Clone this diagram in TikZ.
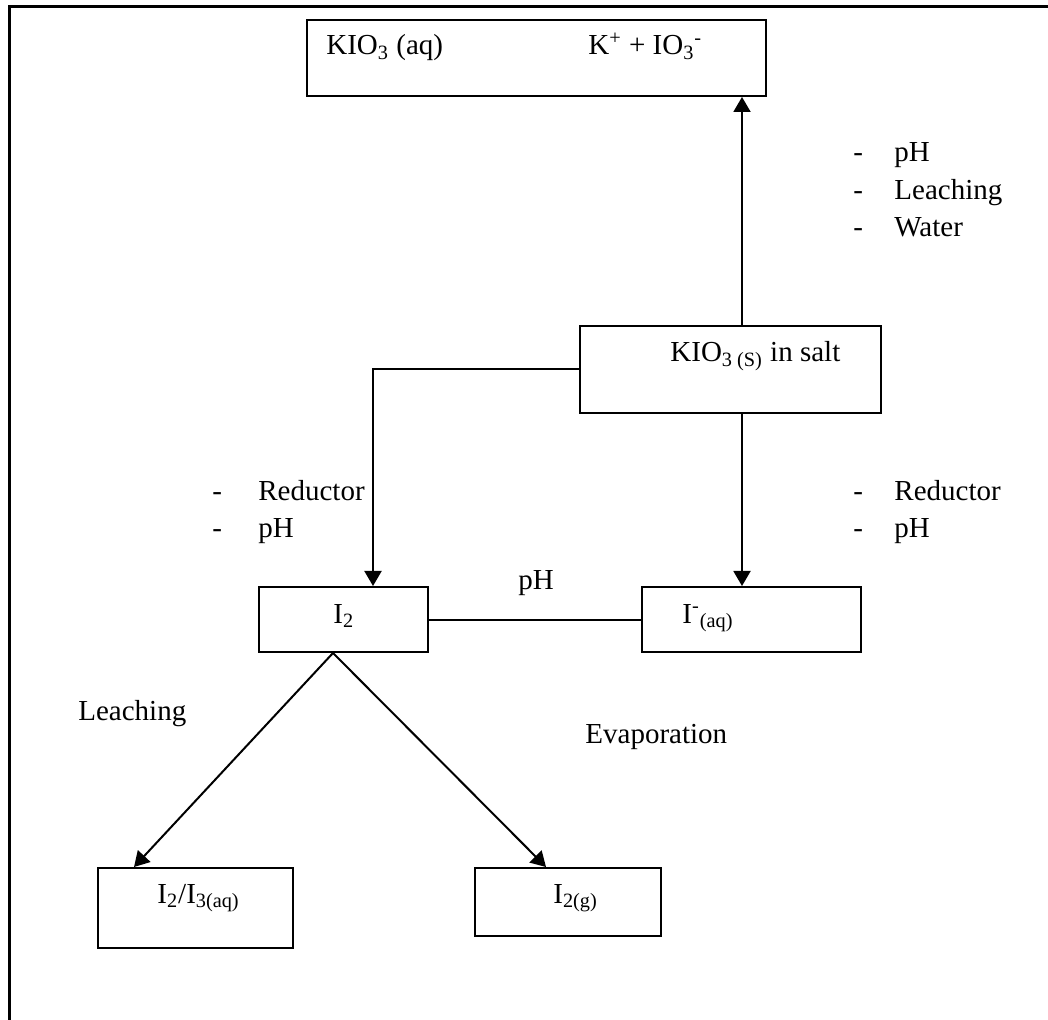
\documentclass[tikz,border=0pt]{standalone}
\usepackage{fontspec}
\setmainfont{Liberation Serif}
\usepackage{tikz}
\usetikzlibrary{arrows, arrows.meta}

\tikzset{
  box/.style={draw, line width=1pt, inner sep=0pt, anchor=north west},
  txt/.style={anchor=base west, inner sep=0pt, font=\fontsize{14.5}{17}\selectfont},
}

\begin{document}
\begin{tikzpicture}[x=0.5pt, y=-0.5pt, >={Triangle[length=7.5pt, width=8.5pt]}]
  \useasboundingbox (0,0) rectangle (1048,1020);
  \clip (0,0) rectangle (1048,1020);

  % frame
  \draw[line width=1.3pt] (9.5,1060) |- (1080,6.5);

  % boxes
  \node (aq) [box, minimum width=229.5pt, minimum height=38pt] at (306,19) {};
  \node (salt) [box, minimum width=150.5pt, minimum height=43.5pt] at (579,325) {};
  \node (itwo) [box, minimum width=84.5pt, minimum height=32.5pt] at (258,586) {};
  \node (iaq) [box, minimum width=109.5pt, minimum height=32.5pt] at (641,586) {};
  \node (ithree) [box, minimum width=97.5pt, minimum height=40pt] at (97,867) {};
  \node (igas) [box, minimum width=93pt, minimum height=34pt] at (474,867) {};

  % texts in the boxes
  \node (aqa) [txt] at (326,55) {KIO\textsubscript{3} (aq)};
  \node (aqb) [txt] at (588,55) {K\textsuperscript{+} + IO\textsubscript{3}\textsuperscript{-}};
  \node (salttxt) [txt] at (670,362) {KIO\textsubscript{3 (S)} in salt};
  \node (itwotxt) [txt] at (333,623) {I\textsubscript{2}};
  \node (iaqtxt) [txt] at (682,623) {I\textsuperscript{-}\textsubscript{(aq)}};
  \node (ithreetxt) [txt] at (157,903) {I\textsubscript{2}/I\textsubscript{3(aq)}};
  \node (igastxt) [txt] at (553,903) {I\textsubscript{2(g)}};

  % conditions
  \node (da) [txt] at (853,162) {-};
  \node (ph) [txt] at (894,162) {pH};
  \node (db) [txt] at (853,200) {-};
  \node (leachup) [txt] at (894,200) {Leaching};
  \node (dc) [txt] at (853,237) {-};
  \node (water) [txt] at (894,237) {Water};

  \node (dd) [txt] at (212,501) {-};
  \node (redl) [txt] at (258,501) {Reductor};
  \node (de) [txt] at (212,538) {-};
  \node (phl) [txt] at (258,538) {pH};

  \node (df) [txt] at (853,501) {-};
  \node (redr) [txt] at (894,501) {Reductor};
  \node (dg) [txt] at (853,538) {-};
  \node (phr) [txt] at (894,538) {pH};

  \node (phmid) [txt] at (518,589) {pH};
  \node (leach) [txt] at (78,720) {Leaching};
  \node (evap) [txt] at (585,743) {Evaporation};

  % connectors
  \coordinate (upx) at (742,0);
  \coordinate (dnx) at (373,0);
  \coordinate (forkx) at (333,0);
  \coordinate (tipl) at (134,0);
  \coordinate (tipr) at (546,0);

  \draw[line width=1pt, ->] (salt.north -| upx) -- (aq.south -| upx);
  \draw[line width=1pt, ->] (salt.south -| upx) -- (iaq.north -| upx);
  \draw[line width=1pt, ->] (salt.west) -| (itwo.north -| dnx);
  \draw[line width=1pt] (itwo.east) -- (iaq.west);
  \draw[line width=1pt, ->] (itwo.south -| forkx) -- (ithree.north -| tipl);
  \draw[line width=1pt, ->] (itwo.south -| forkx) -- (igas.north -| tipr);
\end{tikzpicture}
\end{document}
